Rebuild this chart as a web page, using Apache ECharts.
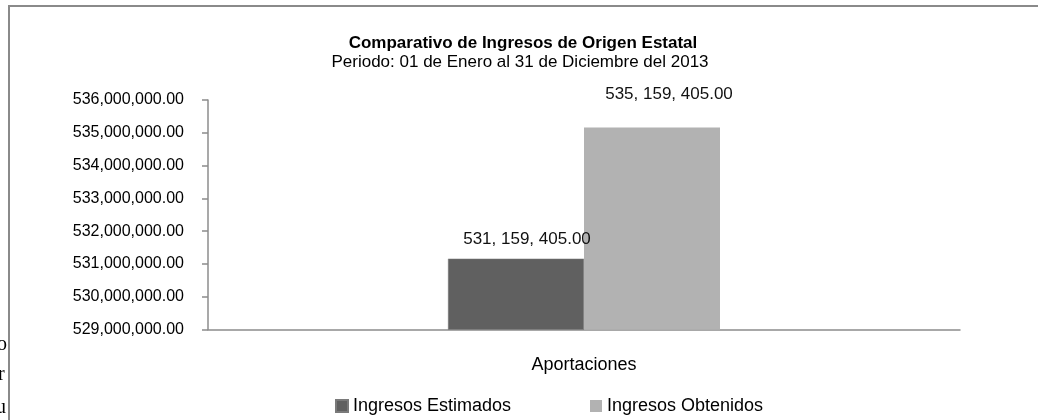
<!DOCTYPE html>
<html><head><meta charset="utf-8">
<script src="https://cdn.jsdelivr.net/npm/echarts@6/dist/echarts.min.js"></script>
<style>html,body{margin:0;padding:0;background:#fff}#c{width:1038px;height:420px}</style>
</head><body><div id="c"></div>
<script>
const categories = ['Aportaciones'];
const seriesNames = ['Ingresos Estimados', 'Ingresos Obtenidos'];
const estimados = [531159405.00];
const obtenidos = [535159405.00];
const yMin = 529000000, yMax = 536000000, yStep = 1000000;
const titleText = 'Comparativo de Ingresos de Origen Estatal';
const subtitleText = 'Periodo: 01 de Enero al 31 de Diciembre del 2013';
const FONT = '"Liberation Sans", Arial, sans-serif';

function fmt(v, sep) {
  const s = v.toFixed(2);
  const [i, d] = s.split('.');
  return i.replace(/\B(?=(\d{3})+(?!\d))/g, sep) + '.' + d;
}

const chart = echarts.init(document.getElementById('c'), null, {renderer: 'canvas'});
chart.setOption({
  animation: false,
  backgroundColor: '#fff',
  title: [
    {text: titleText, left: 523, top: 35, textAlign: 'center', padding: 0,
     textStyle: {fontFamily: FONT, fontSize: 17, fontWeight: 'bold', color: '#000'}},
    {text: subtitleText, left: 520, top: 54, textAlign: 'center', padding: 0,
     textStyle: {fontFamily: FONT, fontSize: 17, fontWeight: 'normal', color: '#000'}}
  ],
  legend: [
    {data: [seriesNames[0]], left: 335, top: 397, padding: 0, itemWidth: 12, itemHeight: 12, itemGap: 0,
     icon: 'rect', textStyle: {fontFamily: FONT, fontSize: 18, color: '#000'}},
    {data: [seriesNames[1]], left: 590, top: 397, padding: 0, itemWidth: 12, itemHeight: 12, itemGap: 0,
     icon: 'rect', textStyle: {fontFamily: FONT, fontSize: 18, color: '#000'}}
  ],
  grid: {left: 208, right: 78, top: 100, bottom: 90.5, containLabel: false},
  xAxis: {
    type: 'category', data: categories,
    axisLine: {lineStyle: {color: '#8c8c8c', width: 1.5}},
    axisTick: {show: false},
    axisLabel: {fontFamily: FONT, fontSize: 18, color: '#000', margin: 27}
  },
  yAxis: {
    type: 'value', min: yMin, max: yMax, interval: yStep,
    axisLine: {show: true, lineStyle: {color: '#8c8c8c', width: 1.5}},
    axisTick: {show: true, length: 6, lineStyle: {color: '#8c8c8c', width: 1.5}},
    splitLine: {show: false},
    axisLabel: {fontFamily: FONT, fontSize: 16, color: '#000', margin: 24,
      formatter: v => fmt(v, ',')}
  },
  series: [
    {name: seriesNames[0], type: 'bar', barWidth: 136, barGap: '0%',
     itemStyle: {color: '#606060', borderColor: '#7a7a7a', borderWidth: 0.5},
     label: {show: true, position: 'top', distance: 11, offset: [11, 0],
       fontFamily: FONT, fontSize: 17, color: '#111',
       formatter: p => fmt(p.value, ', ')},
     data: estimados},
    {name: seriesNames[1], type: 'bar', barWidth: 136, barGap: '0%',
     itemStyle: {color: '#b2b2b2'},
     label: {show: true, position: 'top', distance: 25, offset: [17, 0],
       fontFamily: FONT, fontSize: 17, color: '#111',
       formatter: p => fmt(p.value, ', ')},
     data: obtenidos}
  ],
  graphic: [
    {type: 'rect', shape: {x: 9, y: 6, width: 1100, height: 500},
     style: {fill: 'none', stroke: '#8a8a8a', lineWidth: 2}, silent: true},
    {type: 'text', left: -3, top: 335, style: {text: 'o', font: '20px "Liberation Serif", serif', fill: '#000'}},
    {type: 'text', left: -2, top: 365, style: {text: 'r', font: '20px "Liberation Serif", serif', fill: '#000'}},
    {type: 'text', left: -4, top: 398, style: {text: 'u', font: '20px "Liberation Serif", serif', fill: '#000'}}
  ]
});
</script></body></html>
